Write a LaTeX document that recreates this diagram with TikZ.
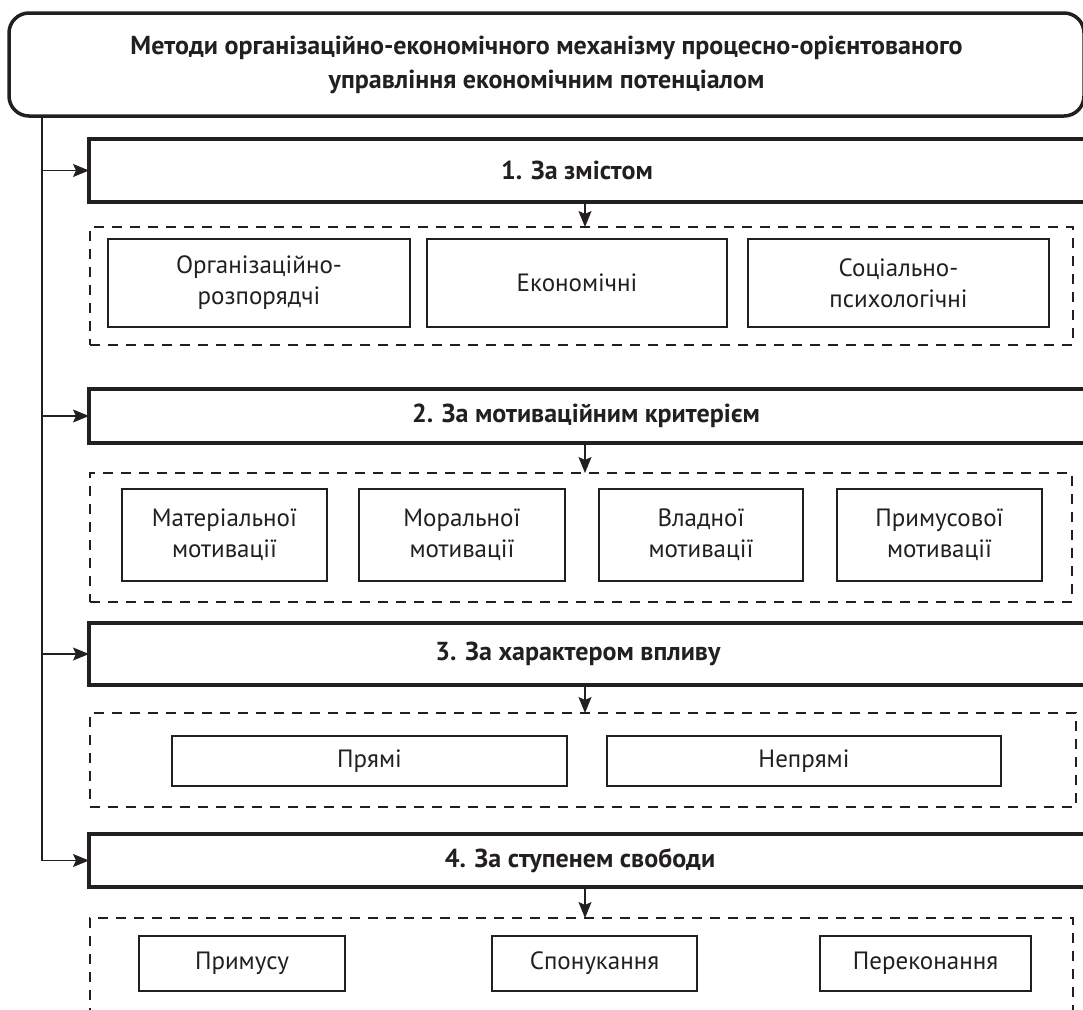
\documentclass[tikz,border=0pt]{standalone}
\usepackage{fontspec}
\setmainfont{PT Sans}
\usetikzlibrary{arrows.meta}
\definecolor{ink}{HTML}{231F20}
\newcommand\bx[7]{\node[#1,minimum width=#5pt-#3pt,minimum height=#6pt-#4pt] (#2) at ({(#3+#5)/2},{(#4+#6)/2}) {#7};}
\begin{document}
\begin{tikzpicture}[x=1pt,y=-1pt,
  hdr/.style={draw=ink,line width=4pt,inner sep=0pt,outer sep=0pt},
  ttl/.style={draw=ink,line width=3.5pt,rounded corners=20pt,inner sep=0pt,outer sep=0pt,align=center,text=ink,font=\bfseries\fontsize{26}{34}\selectfont},
  grp/.style={draw=ink,line width=1.6pt,dash pattern=on 10pt off 8pt,inner sep=0pt,outer sep=0pt},
  item/.style={draw=ink,line width=2.2pt,inner sep=0pt,outer sep=0pt,align=center,text=ink,font=\fontsize{25}{31}\selectfont},
  htext/.style={text=ink,font=\bfseries\fontsize{26}{30}\selectfont,inner sep=0pt},
  conn/.style={draw=ink,line width=1.2pt},
  arr/.style={conn,-{Stealth[length=16pt,width=13pt,inset=3pt]}}
]
\useasboundingbox (0,0) rectangle (1083,1009);
\clip (0,0) rectangle (1083,1009);
\fill[white] (0,0) rectangle (1083,1009);
\coordinate (tx) at (42,0);
\coordinate (ax) at (585,0);
% title
\bx{ttl}{top}{9}{13}{1084}{116}{Методи організаційно-економічного механізму процесно-орієнтованого\\управління економічним потенціалом}
% headers
\bx{hdr}{h1}{89}{139}{1110}{202}{}
\bx{hdr}{h2}{89}{389}{1110}{443}{}
\bx{hdr}{h3}{89}{623}{1110}{685}{}
\bx{hdr}{h4}{89}{834}{1110}{887}{}
\node[htext] (h1t) at (577,170.5) {1. За змістом};
\node[htext] (h2t) at (586,416) {2. За мотиваційним критерієм};
\node[htext] (h3t) at (578,654) {3. За характером впливу};
\node[htext] (h4t) at (580,860.5) {4. За ступенем свободи};
% groups
\bx{grp}{d1}{90}{227}{1073}{345}{}
\bx{grp}{d2}{90}{473}{1072}{602}{}
\bx{grp}{d3}{90}{713}{1076}{807}{}
\bx{grp}{d4}{90}{918}{1073}{1040}{}
% items
\bx{item}{a1}{108}{239}{410}{327}{Організаційно-\\розпорядчі}
\bx{item}{a2}{427}{239}{727}{327}{Економічні}
\bx{item}{a3}{748}{239}{1049}{327}{Соціально-\\психологічні}
\bx{item}{b1}{122}{489}{327}{581}{Матеріальної\\мотивації}
\bx{item}{b2}{359}{489}{565}{581}{Моральної\\мотивації}
\bx{item}{b3}{599}{489}{803}{581}{Владної\\мотивації}
\bx{item}{b4}{837}{489}{1042}{581}{Примусової\\мотивації}
\bx{item}{c1}{172}{736}{567}{786}{Прямі}
\bx{item}{c2}{607}{736}{1001}{786}{Непрямі}
\bx{item}{e1}{139}{936}{345}{991}{Примусу}
\bx{item}{e2}{492}{936}{697}{991}{Спонукання}
\bx{item}{e3}{820}{936}{1031}{991}{Переконання}
% connectors
\draw[arr] (tx |- top.south) |- (h4.west);
\draw[arr] (tx |- h1.west) -- (h1.west);
\draw[arr] (tx |- h2.west) -- (h2.west);
\draw[arr] (tx |- h3.west) -- (h3.west);
\draw[arr] (ax |- h1.south) -- (ax |- d1.north);
\draw[arr] (ax |- h2.south) -- (ax |- d2.north);
\draw[arr] (ax |- h3.south) -- (ax |- d3.north);
\draw[arr] (ax |- h4.south) -- (ax |- d4.north);
\end{tikzpicture}
\end{document}
